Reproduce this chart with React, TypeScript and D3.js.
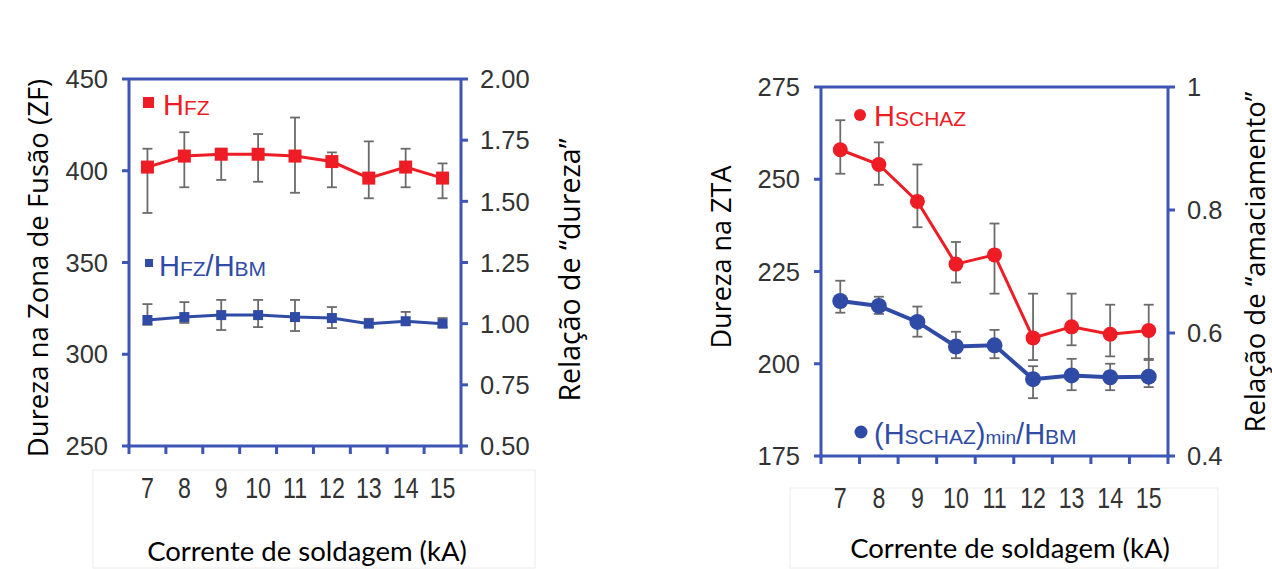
import React from "react";
import * as d3 from "d3";

// corrente de soldagem (kA)
const currents = ["7", "8", "9", "10", "11", "12", "13", "14", "15"];

// zona de fusão
const hfz = [402, 408, 409, 409, 408, 405, 396, 402, 396];
const hfzHi = [412, 421, 412, 420, 429, 410, 416, 412, 404];
const hfzLo = [377, 391, 395, 394, 388, 391, 385, 391, 385];
const ratioFz = [1.015, 1.027, 1.035, 1.035, 1.027, 1.023, 1.0, 1.01, 1.0];
const ratioFzHi = [1.08, 1.088, 1.097, 1.097, 1.097, 1.068, 1.02, 1.048, 1.023];
const ratioFzLo = [0.995, 1.003, 0.974, 0.986, 0.97, 0.982, 0.986, 1.0, 0.986];

// ZTA
const hschaz = [258, 254, 244, 227, 229.5, 207, 210, 208, 209];
const hschazHi = [266, 260, 254, 233, 238, 219, 219, 216, 216];
const hschazLo = [251.5, 248.5, 237, 222, 219, 201, 205, 202, 201];
const softRatio = [0.652, 0.644, 0.618, 0.578, 0.58, 0.525, 0.531, 0.528, 0.529];
const softRatioHi = [0.685, 0.659, 0.643, 0.602, 0.605, 0.546, 0.558, 0.55, 0.558];
const softRatioLo = [0.633, 0.631, 0.594, 0.559, 0.559, 0.494, 0.507, 0.507, 0.512];

const ticksFzLeft = [250, 300, 350, 400, 450];
const ticksFzRight = [0.5, 0.75, 1.0, 1.25, 1.5, 1.75, 2.0];
const ticksZtaLeft = [175, 200, 225, 250, 275];
const ticksZtaRight = [0.4, 0.6, 0.8, 1];

const RED = "#ee1c24";
const BLUE = "#2f4ba6";
const AXIS = "#3d56b5";
const GREY = "#6b6b6b";
const TICKFONT = "'Liberation Sans', Arial, sans-serif";

function ErrorBars({ x, y, vals, hi, lo }) {
  return (
    <g stroke={GREY} strokeWidth={1.8}>
      {vals.map((v, i) => {
        const cx = x(currents[i]) + x.bandwidth() / 2;
        return (
          <g key={i}>
            <line x1={cx} x2={cx} y1={y(hi[i])} y2={y(lo[i])} />
            <line x1={cx - 5} x2={cx + 5} y1={y(hi[i])} y2={y(hi[i])} />
            <line x1={cx - 5} x2={cx + 5} y1={y(lo[i])} y2={y(lo[i])} />
          </g>
        );
      })}
    </g>
  );
}

function Panel({ left, right, top, bottom, yL, yR, ticksL, ticksR, fmtL, fmtR, children }) {
  const x = d3.scaleBand().domain(currents).range([left, right]).padding(0);
  const edges = currents.map((c) => x(c)).concat([x.range()[1]]);
  return (
    <g>
      {/* frame */}
      <g stroke={AXIS} strokeWidth={3} fill="none">
        <line x1={left} x2={right} y1={top} y2={top} />
        <line x1={left} x2={left} y1={top} y2={bottom} />
        <line x1={right} x2={right} y1={top} y2={bottom} />
        <line x1={left - 2} x2={right + 2} y1={bottom} y2={bottom} />
        {edges.map((e, i) => (
          <line key={"x" + i} x1={e} x2={e} y1={bottom} y2={bottom + 8} />
        ))}
        {ticksL.map((t) => (
          <line key={"l" + t} x1={left - 7} x2={left} y1={yL(t)} y2={yL(t)} />
        ))}
        {ticksR.map((t) => (
          <line key={"r" + t} x1={right} x2={right + 7} y1={yR(t)} y2={yR(t)} />
        ))}
      </g>
      <g fontFamily={TICKFONT} fontSize={25.5} fill="#333">
        {ticksL.map((t) => (
          <text key={"tl" + t} x={left - 21} y={yL(t)} dy="0.36em" textAnchor="end">
            {fmtL(t)}
          </text>
        ))}
        {ticksR.map((t) => (
          <text key={"tr" + t} x={right + 19} y={yR(t)} dy="0.36em">
            {fmtR(t)}
          </text>
        ))}
        {currents.map((c) => (
          <text key={"tx" + c} fontSize={29} textAnchor="middle"
            transform={`translate(${x(c) + x.bandwidth() / 2},${bottom + 52}) scale(0.8,1)`}>
            {c}
          </text>
        ))}
      </g>
      {children(x)}
    </g>
  );
}

export default function App() {
  const yFz = d3.scaleLinear().domain([250, 450]).range([446, 79]);
  const yFzR = d3.scaleLinear().domain([0.5, 2.0]).range([446, 79]);
  const yZta = d3.scaleLinear().domain([175, 275]).range([456, 87]);
  const yZtaR = d3.scaleLinear().domain([0.4, 1]).range([456, 87]);
  const fmt2 = d3.format(".2f");
  const titleFont = "'Open Sans', 'Noto Sans', sans-serif";
  const xTitleFont = "Lato, 'Open Sans', sans-serif";

  return (
    <svg width={1272} height={569} style={{ position: "absolute", left: 0, top: 0, background: "#fff" }}>
      <rect width={1272} height={569} fill="#fff" />

      {/* faint screenshot boxes */}
      <g fill="none" stroke="#ececec" strokeWidth={1}>
        <rect x={93} y={470} width={442} height={98} />
        <rect x={790} y={488} width={428} height={80} />
      </g>

      {/* ---------- zona de fusão ---------- */}
      <Panel left={129} right={461} top={79} bottom={446} yL={yFz} yR={yFzR}
        ticksL={ticksFzLeft} ticksR={ticksFzRight} fmtL={(d) => d} fmtR={fmt2}>
        {(x) => {
          const cx = (i) => x(currents[i]) + x.bandwidth() / 2;
          const lineR = d3.line().x((d, i) => cx(i)).y((d) => yFz(d));
          const lineB = d3.line().x((d, i) => cx(i)).y((d) => yFzR(d));
          return (
            <g>
              <ErrorBars x={x} y={yFz} vals={hfz} hi={hfzHi} lo={hfzLo} />
              <ErrorBars x={x} y={yFzR} vals={ratioFz} hi={ratioFzHi} lo={ratioFzLo} />
              <path d={lineR(hfz)} fill="none" stroke={RED} strokeWidth={3} />
              <path d={lineB(ratioFz)} fill="none" stroke={BLUE} strokeWidth={3} />
              {hfz.map((v, i) => (
                <rect key={"r" + i} x={cx(i) - 6.5} y={yFz(v) - 6.5} width={13} height={13} fill={RED} />
              ))}
              {ratioFz.map((v, i) => (
                <rect key={"b" + i} x={cx(i) - 5} y={yFzR(v) - 5} width={10} height={10} fill={BLUE} />
              ))}
            </g>
          );
        }}
      </Panel>

      {/* legend left */}
      <g fontFamily="'Liberation Sans', Arial, sans-serif">
        <rect x={143} y={97} width={11} height={11} fill={RED} />
        <text x={163} y={115} fill={RED} fontSize={29}>
          H<tspan fontSize={21}>FZ</tspan>
        </text>
        <rect x={145} y={259} width={8} height={8} fill={BLUE} />
        <text x={159} y={276} fill={BLUE} fontSize={29}>
          H<tspan fontSize={21}>FZ</tspan>/H<tspan fontSize={21}>BM</tspan>
        </text>
      </g>

      <text transform="translate(48,268) rotate(-90)" textAnchor="middle" fontFamily={titleFont} fontSize={27.5} fill="#000">
        Dureza na Zona de Fusão (ZF)
      </text>
      <text transform="translate(580,270) rotate(-90)" textAnchor="middle" fontFamily={titleFont} fontSize={28.5} fill="#000">
        Relação de “dureza”
      </text>
      <text x={307} y={561} textAnchor="middle" fontFamily={xTitleFont} fontSize={27.5} fill="#000">
        Corrente de soldagem (kA)
      </text>

      {/* ---------- ZTA ---------- */}
      <Panel left={821} right={1168} top={87} bottom={456} yL={yZta} yR={yZtaR}
        ticksL={ticksZtaLeft} ticksR={ticksZtaRight} fmtL={(d) => d} fmtR={(d) => String(d)}>
        {(x) => {
          const cx = (i) => x(currents[i]) + x.bandwidth() / 2;
          const lineR = d3.line().x((d, i) => cx(i)).y((d) => yZta(d));
          const lineB = d3.line().x((d, i) => cx(i)).y((d) => yZtaR(d));
          return (
            <g>
              <ErrorBars x={x} y={yZta} vals={hschaz} hi={hschazHi} lo={hschazLo} />
              <ErrorBars x={x} y={yZtaR} vals={softRatio} hi={softRatioHi} lo={softRatioLo} />
              <path d={lineR(hschaz)} fill="none" stroke={RED} strokeWidth={3} />
              <path d={lineB(softRatio)} fill="none" stroke={BLUE} strokeWidth={4} />
              {hschaz.map((v, i) => (
                <circle key={"r" + i} cx={cx(i)} cy={yZta(v)} r={7.5} fill={RED} />
              ))}
              {softRatio.map((v, i) => (
                <circle key={"b" + i} cx={cx(i)} cy={yZtaR(v)} r={8} fill={BLUE} />
              ))}
            </g>
          );
        }}
      </Panel>

      {/* legend right */}
      <g fontFamily="'Liberation Sans', Arial, sans-serif">
        <circle cx={860} cy={115} r={6} fill={RED} />
        <text x={874} y={126} fill={RED} fontSize={29}>
          H<tspan fontSize={21}>SCHAZ</tspan>
        </text>
        <circle cx={861} cy={432} r={6.5} fill={BLUE} />
        <text x={874} y={444} fill={BLUE} fontSize={29}>
          (H<tspan fontSize={21}>SCHAZ</tspan>)<tspan fontSize={19}>min</tspan>/H<tspan fontSize={21}>BM</tspan>
        </text>
      </g>

      <text transform="translate(731,257) rotate(-90)" textAnchor="middle" fontFamily={titleFont} fontSize={27} fill="#000">
        Dureza na ZTA
      </text>
      <text transform="translate(1265,262) rotate(-90)" textAnchor="middle" fontFamily={titleFont} fontSize={27.5} fill="#000">
        Relação de “amaciamento”
      </text>
      <text x={1010} y={558} textAnchor="middle" fontFamily={xTitleFont} fontSize={27.5} fill="#000">
        Corrente de soldagem (kA)
      </text>
    </svg>
  );
}
